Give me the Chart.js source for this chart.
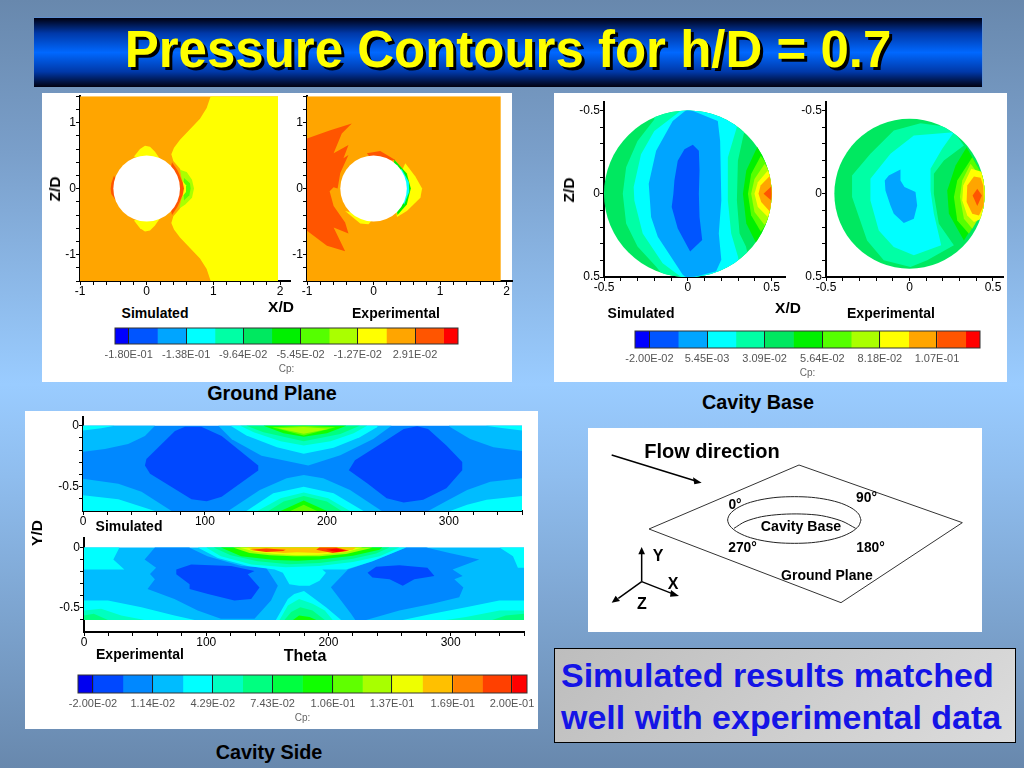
<!DOCTYPE html>
<html><head><meta charset="utf-8">
<style>
html,body{margin:0;padding:0;width:1024px;height:768px;overflow:hidden}
body{position:relative;background:linear-gradient(180deg,#6888ad 0%,#7a9fca 20%,#9accff 50%,#8fbdee 62%,#6888ad 100%);font-family:"Liberation Sans",Arial,sans-serif}
.panel{position:absolute;background:#fff}
canvas{position:absolute}
.t{position:absolute;white-space:nowrap;transform:translate(-50%,-50%);font-weight:bold;color:#000}
.r{transform:translate(-50%,-50%) rotate(-90deg)}
#bar{position:absolute;left:34px;top:17px;width:948px;height:69px;background:linear-gradient(180deg,#000010 0%,#0038a8 22%,#0068ff 50%,#0038a8 78%,#000010 100%);border-top:1px solid #5f8fd0;border-right:1px solid #5f8fd0}
#title{position:absolute;left:508px;top:49px;transform:translate(-50%,-50%);white-space:nowrap;font-weight:bold;font-size:51px;color:#ffff00;text-shadow:3px 3px 0 #000}
#note{position:absolute;left:554px;top:648px;width:460px;height:93px;background:linear-gradient(135deg,#bdbdbd,#dcdcdc);border:1px solid #000}
#note div{position:absolute;left:6px;white-space:nowrap;font-weight:bold;font-size:34px;color:#1414e6;transform:translateY(-50%)}
</style></head><body>
<div id="bar"></div><div id="title">Pressure Contours for h/D = 0.7</div>
<div class="panel" style="left:42px;top:93px;width:470px;height:289px"></div>
<div class="panel" style="left:554px;top:93px;width:453px;height:289px"></div>
<div class="panel" style="left:25px;top:411px;width:513px;height:318px"></div>
<div class="panel" style="left:588px;top:428px;width:394px;height:204px"></div>
<div id="note"><div style="top:26px">Simulated results matched</div><div style="top:68px">well with experimental data</div></div>
<script src="https://cdn.jsdelivr.net/npm/chart.js@4"></script>
<script>
/* ---------- colour levels ---------- */
const mainColors=['#0000ff','#0055ff','#00a5ff','#00ffff','#00ffa5','#00e860','#00f000','#55ff00','#aaff00','#ffff00','#ffa500','#ff5500','#ff0000'];
const sideColors=['#0000f0','#0048ff','#0088ff','#00bcff','#00ffff','#00ffc0','#00ff80','#00ff40','#10ff00','#60ff00','#a8ff00','#eeff00','#ffc000','#ff8000','#ff4000','#ff0000'];

/* ---------- colour bars: level edges and tick labels ---------- */
const groundEdges=[-0.19,-0.18,-0.159,-0.138,-0.117,-0.0964,-0.0755,-0.0545,-0.0336,-0.0127,0.0082,0.0291,0.05,0.0605];
const groundTicks=[-0.18,-0.138,-0.0964,-0.0545,-0.0127,0.0291];
const groundTickLabels=['-1.80E-01','-1.38E-01','-9.64E-02','-5.45E-02','-1.27E-02','2.91E-02'];
const baseEdges=[-0.02635,-0.02,-0.00727,0.00545,0.0182,0.0309,0.0436,0.0564,0.0691,0.0818,0.0945,0.107,0.1197,0.126];
const baseTicks=[-0.02,0.00545,0.0309,0.0564,0.0818,0.107];
const baseTickLabels=['-2.00E-02','5.45E-03','3.09E-02','5.64E-02','8.18E-02','1.07E-01'];
const sideEdges=[-0.02786,-0.02,-0.0043,0.0114,0.0272,0.0429,0.0586,0.0743,0.09,0.106,0.1215,0.137,0.153,0.169,0.1845,0.2,0.2079];
const sideTicks=[-0.02,0.0114,0.0429,0.0743,0.106,0.137,0.169,0.2];
const sideTickLabels=['-2.00E-02','1.14E-02','4.29E-02','7.43E-02','1.06E-01','1.37E-01','1.69E-01','2.00E-01'];

/* ---------- axis tick labels ---------- */
const groundXLabels=[-1,0,1,2], groundZLabels=[-1,0,1];
const baseXLabels=[-0.5,0,0.5], baseZLabels=[-0.5,0,0.5];
const sideThetaLabels=[0,100,200,300], sideYLabels=[0,-0.5];

/* ---------- Ground plane, simulated: contour bands in (X/D, Z/D) ---------- */
const gsBase=[[-1,1.4],[1.97,1.4],[1.97,-1.4],[-1,-1.4]];
const gsYellow=[[0.96,1.4],[0.9,1.22],[0.8,1.06],[0.65,0.9],[0.5,0.74],[0.41,0.62],[0.37,0.52],[0.4,0.42],[0.5,0.3],[0.6,0],[0.5,-0.3],[0.4,-0.42],[0.37,-0.52],[0.41,-0.62],[0.5,-0.74],[0.65,-0.9],[0.8,-1.06],[0.9,-1.22],[0.96,-1.4],[1.97,-1.4],[1.97,1.4]];
const gsPatchTop=[[-0.19,0.485],[-0.1,0.6],[-0.025,0.65],[0.05,0.635],[0.125,0.56],[0.21,0.435],[0,0.4]];
const gsPatchBottom=[[-0.19,-0.485],[-0.1,-0.6],[-0.025,-0.65],[0.05,-0.635],[0.125,-0.56],[0.21,-0.435],[0,-0.4]];
const gsLime=[[0.5,0.285],[0.6,0.25],[0.68,0.135],[0.71,0],[0.68,-0.14],[0.58,-0.24],[0.49,-0.3],[0.55,0]];
const gsGreen=[[0.56,0.16],[0.65,0.08],[0.66,0],[0.64,-0.1],[0.56,-0.18],[0.55,0]];
const gsInner=[[0.5,0.16],[0.59,0.05],[0.59,-0.05],[0.5,-0.16]];
const gsRedLeft=[[-0.49,0.2],[-0.53,0.08],[-0.54,0],[-0.53,-0.08],[-0.47,-0.17],[-0.4,0]];
const gsRedRight=[[0.38,0.4],[0.46,0.28],[0.54,0.1],[0.56,0],[0.54,-0.1],[0.46,-0.28],[0.38,-0.4],[0.3,0]];

/* ---------- Ground plane, experimental ---------- */
const geBase=[[-1,1.4],[1.91,1.4],[1.91,-1.4],[-1,-1.4]];
const geRed=[[-1,0.76],[-0.65,0.885],[-0.327,0.985],[-0.477,0.835],[-0.6,0.535],[-0.377,0.66],[-0.452,0.46],[-0.377,0.51],[-0.5,0.235],[-0.54,0],[-0.6,0.02],[-0.66,-0.04],[-0.6,-0.265],[-0.427,-0.515],[-0.377,-0.68],[-0.6,-0.59],[-0.427,-0.95],[-0.7,-0.865],[-1,-0.64]];
const geCap=[[-0.1,0.535],[0.1,0.57],[0.327,0.435],[0,0.4]];
const geYellowRight=[[0.477,0.385],[0.628,0.185],[0.729,0],[0.704,-0.14],[0.5,-0.34],[0.352,-0.43],[0.3,0]];
const geYellowLow=[[-0.427,-0.34],[-0.2,-0.53],[-0.075,-0.54],[0,-0.45]];
const geLime=[[0.31,0.44],[0.5,0.23],[0.56,0],[0.5,-0.24],[0.36,-0.4],[0.3,0]];
const geCyan=[[0.42,0.3],[0.53,0.1],[0.535,-0.05],[0.46,-0.24],[0.3,0]];

/* ---------- Cavity base, simulated: contour bands in (X/D, Z/D) ---------- */
const bsRect=[[-0.55,-0.55],[0.55,-0.55],[0.55,0.55],[-0.55,0.55]];
const bsSpring=[[-0.2,-0.55],[-0.2,-0.446],[-0.3,-0.317],[-0.368,-0.159],[-0.388,0],[-0.368,0.179],[-0.3,0.317],[-0.19,0.437],[-0.1,0.55],[0.4,0.55],[0.347,0.317],[0.309,0.238],[0.293,0.04],[0.299,-0.198],[0.329,-0.337],[0.38,-0.55]];
const bsCyan=[[-0.04,-0.55],[-0.04,-0.5],[-0.2,-0.377],[-0.279,-0.238],[-0.323,-0.04],[-0.319,0.04],[-0.269,0.238],[-0.15,0.417],[-0.04,0.5],[-0.04,0.55],[0.33,0.55],[0.299,0.377],[0.259,0.238],[0.239,0.04],[0.239,-0.218],[0.289,-0.387],[0.33,-0.55]];
const bsAzure=[[0,-0.51],[-0.09,-0.437],[-0.189,-0.258],[-0.233,-0.06],[-0.219,0.139],[-0.179,0.258],[-0.03,0.486],[0,0.51],[0.169,0.466],[0.2,0.397],[0.185,0.238],[0.2,0.04],[0.193,-0.317],[0.179,-0.437]];
const bsBlue=[[0.03,-0.294],[-0.02,-0.268],[-0.06,-0.198],[-0.08,-0.079],[-0.086,0],[-0.096,0.079],[-0.06,0.208],[0.014,0.347],[0.086,0.278],[0.07,0.139],[0.066,0],[0.07,-0.139],[0.066,-0.258]];
const bsHot6=[[0.418,-0.288],[0.349,-0.139],[0.329,0],[0.349,0.179],[0.408,0.298],[0.6,0]];
const bsHot7=[[0.436,-0.228],[0.378,-0.119],[0.359,0],[0.378,0.129],[0.436,0.228],[0.6,0]];
const bsHot8=[[0.458,-0.179],[0.398,-0.089],[0.378,0],[0.398,0.109],[0.458,0.188],[0.6,0]];
const bsHot9=[[0.478,-0.139],[0.418,-0.069],[0.398,0],[0.418,0.079],[0.478,0.139],[0.6,0]];
const bsHot10=[[0.492,-0.109],[0.434,-0.05],[0.422,0],[0.438,0.05],[0.492,0.109],[0.6,0]];
const bsHot11=[[0.498,-0.044],[0.452,0],[0.498,0.04],[0.6,0]];

/* ---------- Cavity base, experimental ---------- */
const beSpring=[[-0.344,-0.11],[-0.234,-0.24],[-0.094,-0.38],[0.066,-0.424],[0.246,-0.4],[0.326,-0.29],[0.206,-0.2],[0.146,-0.12],[0.146,0],[0.176,0.18],[0.266,0.31],[0.106,0.4],[0.006,0.44],[-0.154,0.4],[-0.254,0.28],[-0.344,0.02]];
const beCyan=[[-0.234,-0.09],[-0.114,-0.24],[0.026,-0.35],[0.266,-0.37],[0.196,-0.27],[0.126,-0.15],[0.126,-0.02],[0.146,0.12],[0.19,0.31],[0.026,0.37],[-0.094,0.32],[-0.184,0.22],[-0.234,0.04]];
const beAzure=[[-0.054,-0.146],[-0.124,-0.11],[-0.148,-0.08],[-0.144,-0.02],[-0.114,0.07],[-0.094,0.12],[-0.034,0.176],[0.026,0.15],[0.046,0.07],[0.036,-0.01],[-0.03,-0.04],[-0.054,-0.08]];
const beHot6=[[0.342,-0.28],[0.276,-0.17],[0.226,-0.02],[0.236,0.12],[0.326,0.28],[0.5,0]];
const beHot7=[[0.376,-0.22],[0.286,-0.08],[0.266,0.02],[0.286,0.16],[0.356,0.24],[0.5,0]];
const beHot8=[[0.366,-0.18],[0.316,-0.08],[0.302,0.02],[0.326,0.15],[0.376,0.21],[0.5,0]];
const beHot9=[[0.37,-0.15],[0.322,-0.05],[0.316,0.04],[0.346,0.13],[0.386,0.17],[0.456,0.14],[0.466,-0.02],[0.436,-0.13]];
const beHot10=[[0.386,-0.104],[0.346,-0.05],[0.342,0.05],[0.376,0.12],[0.416,0.13],[0.446,0.07],[0.442,-0.05],[0.426,-0.096]];
const beHot11=[[0.406,-0.03],[0.378,0.01],[0.406,0.074],[0.434,0.01]];

/* ---------- Cavity side, simulated: contour bands in (Theta, Y/D) ---------- */
const ssBase=[[0,0],[360,0],[360,-0.7],[0,-0.7]];
const ssTL=[[0,0],[59,0],[50.8,-0.084],[37,-0.151],[18,-0.192],[0,-0.213]];
const ssTLc=[[0,0],[26,0],[15,-0.02],[0,-0.04]];
const ssTR=[[360,-0.208],[336.6,-0.176],[317.5,-0.108],[301,-0.01],[300,0],[360,0]];
const ssTRc=[[330,0],[360,0],[360,-0.04],[345,-0.02]];
const ssBL=[[0,-0.435],[29,-0.476],[48,-0.543],[72.7,-0.7],[0,-0.7]];
const ssBLc=[[0,-0.57],[29,-0.603],[59,-0.7],[0,-0.7]];
const ssBR=[[360,-0.432],[334,-0.459],[315,-0.527],[300,-0.608],[283,-0.7],[360,-0.7]];
const ssBRc=[[360,-0.576],[331,-0.608],[315,-0.649],[301,-0.7],[360,-0.7]];
const ssT3=[[111,0],[122,-0.11],[146.4,-0.246],[184.7,-0.327],[211,-0.243],[238,-0.108],[253,0]];
const ssT4=[[121,0],[134,-0.08],[159,-0.176],[181,-0.23],[205.5,-0.18],[227,-0.095],[241,-0.013],[242,0]];
const ssT5=[[129,0],[140,-0.054],[162,-0.127],[181,-0.162],[203,-0.127],[222,-0.062],[233,0]];
const ssT6=[[134,0],[148,-0.054],[181,-0.127],[211,-0.068],[227,0]];
const ssT8=[[148,0],[164.5,-0.062],[181,-0.09],[200,-0.062],[216,0]];
const ssT9=[[155,-0.012],[181,-0.08],[207,-0.012],[181,0]];
const ssT10=[[160,-0.02],[181,-0.065],[202,-0.025],[181,-0.01]];
const ssB3=[[119,-0.7],[145,-0.527],[167,-0.432],[181,-0.405],[197,-0.432],[219,-0.527],[245,-0.7]];
const ssB4=[[134,-0.7],[156,-0.554],[181,-0.5],[205.5,-0.554],[230,-0.7]];
const ssB5=[[143,-0.7],[162,-0.595],[181,-0.549],[201,-0.595],[219,-0.7]];
const ssB6=[[152,-0.7],[164.5,-0.622],[181,-0.576],[200,-0.622],[212,-0.7]];
const ssB8=[[162,-0.7],[181,-0.614],[200,-0.7]];
const ssB9=[[170,-0.7],[181,-0.649],[192,-0.7]];
const ssBlueL=[[83.6,-0.008],[75.4,-0.043],[52,-0.273],[50.8,-0.327],[55,-0.395],[89,-0.603],[101.4,-0.619],[113.7,-0.584],[143.7,-0.368],[143.7,-0.327],[113.7,-0.084],[97,-0.008]];
const ssBlueR=[[218,-0.365],[223,-0.284],[244,-0.149],[263,-0.027],[274,-0.005],[283,-0.027],[298,-0.162],[311,-0.297],[311,-0.365],[298,-0.514],[279,-0.608],[263,-0.63],[249,-0.595],[233,-0.473]];

/* ---------- Cavity side, experimental ---------- */
const seBase=[[0,0],[360,0],[360,-0.6],[0,-0.6]];
const seL2=[[58,0],[86,0],[101,-0.073],[128.6,-0.155],[149,-0.168],[158.6,-0.318],[153,-0.44],[139.5,-0.59],[112,-0.59],[93,-0.522],[74,-0.427],[52,-0.345],[58,-0.264],[54,-0.22],[59,-0.168],[49.6,-0.1]];
const seR2=[[263.5,0],[280,0],[299,-0.046],[323.4,-0.1],[301.6,-0.182],[309.8,-0.236],[303,-0.264],[310.4,-0.332],[307,-0.413],[285,-0.467],[258,-0.522],[230.8,-0.6],[222,-0.6],[218.5,-0.55],[202,-0.33],[216,-0.182],[236,-0.114],[252.6,-0.046]];
const seTL4=[[0,0],[29,0],[24,-0.1],[33,-0.182],[0,-0.182]];
const seLow4=[[0,-0.44],[19.6,-0.44],[47,-0.495],[74,-0.563],[90.5,-0.6],[0,-0.6]];
const seLow5=[[0,-0.522],[14,-0.508],[30.5,-0.563],[49.6,-0.6],[0,-0.6]];
const seLow6=[[0,-0.563],[8,-0.549],[19.6,-0.6],[0,-0.6]];
const seTR4=[[340,0],[351,-0.073],[355,-0.168],[360,-0.168],[360,0]];
const seLowR4=[[360,-0.44],[339.8,-0.44],[312.5,-0.495],[285,-0.549],[260.8,-0.6],[360,-0.6]];
const seLowR5=[[360,-0.522],[340,-0.522],[312.5,-0.576],[296,-0.6],[360,-0.6]];
const seLowR6=[[360,-0.549],[345,-0.563],[334,-0.6],[360,-0.6]];
const seC4=[[93,0],[109.5,-0.087],[134,-0.155],[156,-0.182],[162.7,-0.21],[168,-0.304],[176,-0.318],[184.5,-0.318],[192.7,-0.277],[198,-0.21],[195,-0.182],[214.4,-0.182],[236,-0.114],[252.6,-0.046],[263.5,0]];
const seC5=[[100,0],[112,-0.073],[137,-0.141],[165,-0.165],[192.6,-0.155],[220,-0.12],[242,-0.073],[258,0]];
const seC6=[[106,0],[120,-0.065],[142,-0.115],[168,-0.14],[192.6,-0.13],[220,-0.095],[239,-0.05],[250,0]];
const seC8=[[112,0],[128.6,-0.073],[156,-0.105],[175,-0.11],[192.6,-0.1],[220,-0.07],[241.7,-0.02],[244,0]];
const seC10=[[122,0],[135.4,-0.046],[152,-0.065],[171,-0.073],[192.6,-0.073],[214.5,-0.054],[233.5,-0.01],[236,0]];
const seC11=[[127,0],[141,-0.038],[157,-0.054],[174,-0.065],[192.6,-0.06],[214.5,-0.038],[228,0]];
const seC12=[[133,0],[144,-0.027],[163,-0.046],[174,-0.04],[192.6,-0.046],[220,-0.02],[222.6,0]];
const seRedL=[[135.4,-0.02],[149,-0.038],[163,-0.03],[165,-0.02],[149,-0.01]];
const seRedR=[[190,-0.02],[203.5,-0.046],[217,-0.027],[206.5,0],[192.6,0]];
const seRed=[[198,-0.02],[206.5,-0.038],[214.5,-0.027],[206.5,-0.01]];
const seB4=[[157,-0.6],[166.8,-0.427],[172,-0.386],[180,-0.36],[187,-0.413],[198,-0.495],[210.4,-0.6]];
const seB5=[[160,-0.6],[166.8,-0.481],[176,-0.427],[187,-0.467],[197,-0.522],[203.5,-0.6]];
const seB6=[[164,-0.6],[169.5,-0.535],[177,-0.495],[187,-0.522],[197,-0.6]];
const seB8=[[171,-0.6],[176,-0.563],[184.5,-0.576],[190,-0.6]];
const seBlueL=[[75.5,-0.182],[75.5,-0.223],[86.4,-0.304],[86.4,-0.345],[101.4,-0.386],[123,-0.44],[136.8,-0.427],[143.6,-0.332],[134,-0.223],[139.5,-0.196],[120.4,-0.155],[87.7,-0.141]];
const seBlueR=[[232,-0.21],[236,-0.25],[250,-0.264],[260.8,-0.318],[270.3,-0.264],[286.7,-0.236],[281,-0.168],[258,-0.147],[239,-0.16]];

/* ---------- Schematic outline, in diagram units ---------- */
const planeOutline=[[192,312],[642,120],[1132,293],[768,533],[192,312]];
const cavityRim=[[828,285],[821,303],[801,320],[769,335],[728,346],[680,353],[628,355],[576,353],[528,346],[487,335],[455,320],[435,303],[428,285],[435,267],[455,250],[487,235],[528,224],[576,217],[628,215],[680,217],[728,224],[769,235],[801,250],[821,267],[828,285]];
const cavityFloor=[[447,310],[480,290],[530,275],[590,268],[650,267],[710,272],[770,288],[812,310]];
const flowLine=[[80,90],[330,167]], flowHead=[[350,173],[324,157],[328,178]];
const axisY=[[170,470],[170,385]], axisYHead=[[170,366],[160,388],[180,388]];
const axisX=[[170,470],[260,505]], axisXHead=[[282,513],[258,495],[255,515]];
const axisZ=[[170,470],[100,520]], axisZHead=[[80,533],[92,512],[105,528]];

/* ---------- rendering helpers ---------- */
const pts=a=>a.map(p=>({x:p[0],y:p[1]}));
const contourPlugin={id:'contour',
 beforeDatasetDraw(chart,args){
  const ds=chart.data.datasets[args.index]; if(!ds.polygon) return;
  const o=chart.options.plugins.contour||{},c=chart.ctx,pp=args.meta.data,x=chart.scales.x,y=chart.scales.y,a=chart.chartArea;
  c.save(); c.beginPath();
  if(o.disc){c.ellipse(x.getPixelForValue(o.disc[0]),y.getPixelForValue(o.disc[1]),Math.abs(x.getPixelForValue(o.disc[2])-x.getPixelForValue(0)),Math.abs(y.getPixelForValue(o.disc[2])-y.getPixelForValue(0)),0,0,Math.PI*2);}
  else c.rect(a.left,a.top,a.right-a.left,a.bottom-a.top);
  c.clip(); c.beginPath();
  pp.forEach((p,i)=>i?c.lineTo(p.x,p.y):c.moveTo(p.x,p.y));
  c.closePath(); c.fillStyle=ds.backgroundColor; c.fill(); c.restore();
 },
 afterDatasetsDraw(chart){
  const o=chart.options.plugins.contour||{},c=chart.ctx;
  if(o.hole){const x=chart.scales.x,y=chart.scales.y;c.save();c.fillStyle='#fff';c.beginPath();
   c.ellipse(x.getPixelForValue(o.hole[0]),y.getPixelForValue(o.hole[1]),Math.abs(x.getPixelForValue(o.hole[2])-x.getPixelForValue(0)),Math.abs(y.getPixelForValue(o.hole[2])-y.getPixelForValue(0)),0,0,Math.PI*2);c.fill();c.restore();}
 },
 afterDraw(chart){
  const o=chart.options.plugins.contour||{},c=chart.ctx,a=chart.chartArea;
  if(o.frame){c.save();c.strokeStyle='#333';c.lineWidth=1;c.strokeRect(a.left,a.top,a.right-a.left,a.bottom-a.top);c.restore();}
 }};
Chart.register(contourPlugin);
function canvas(l,t,w,h){const e=document.createElement('canvas');e.width=w;e.height=h;e.style.cssText=`left:${l}px;top:${t}px;width:${w}px;height:${h}px`;document.body.appendChild(e);return e;}
function axis(min,max,step,labels,reverse,pos,fitSize){
 return {type:'linear',position:pos,min,max,reverse,
  grid:{drawOnChartArea:false,drawTicks:true,tickLength:4,color:'#000',tickColor:'#000',lineWidth:1},
  border:{display:true,color:'#000',width:2},
  ticks:{stepSize:step,includeBounds:false,autoSkip:false,maxRotation:0,minRotation:0,padding:pos==='left'?0:-1,color:'#000',font:{family:'"Liberation Sans"',size:12},
   callback:v=>{const m=labels.find(q=>Math.abs(q-v)<1e-6);return m===undefined?'':String(m);}},
  afterFit:s=>{if(pos==='left')s.width=fitSize;else s.height=fitSize;}};
}
function contourChart(r,xr,yr,xstep,ystep,xlabels,ylabels,rev,layers,extra){
 const L=45,T=6,R=8,B=24;
 new Chart(canvas(r.l-L,r.t-T,r.r-r.l+L+R,r.b-r.t+T+B),{type:'scatter',
  data:{datasets:layers.map((q,i)=>({data:pts(q[0]),backgroundColor:q[1],polygon:true,pointRadius:0,showLine:false,order:-i}))},
  options:{responsive:false,animation:false,events:[],layout:{autoPadding:false,padding:{left:0,top:T,right:R,bottom:0}},
   plugins:{legend:{display:false},tooltip:{enabled:false},contour:extra||{}},
   scales:{x:axis(xr[0],xr[1],xstep,xlabels,false,'bottom',B),y:axis(yr[0],yr[1],ystep,ylabels,rev,'left',L)}}});
}
function colorBar(r,edges,colors,ticks,labels){
 const P=40,T=2,B=33;
 new Chart(canvas(r.l-P,r.t-T,r.r-r.l+2*P,r.b-r.t+T+B),{type:'bar',
  data:{labels:['Cp'],datasets:colors.map((c,i)=>({data:[[edges[i],edges[i+1]]],backgroundColor:c,barPercentage:1,categoryPercentage:1}))},
  options:{indexAxis:'y',responsive:false,animation:false,events:[],layout:{autoPadding:false,padding:{left:P,right:P,top:T,bottom:0}},
   plugins:{legend:{display:false},tooltip:{enabled:false},contour:{frame:true}},
   scales:{y:{display:false,stacked:true},
    x:{type:'linear',min:edges[0],max:edges[edges.length-1],
     grid:{z:1,drawTicks:false,color:'#222',lineWidth:1},border:{display:false},
     title:{display:true,text:'Cp:',color:'#666',font:{family:'"Liberation Sans"',size:10},padding:{top:0,bottom:2}},
     afterBuildTicks:s=>{s.ticks=ticks.map(v=>({value:v}));},
     afterFit:s=>{s.height=B;},
     ticks:{autoSkip:false,maxRotation:0,minRotation:0,padding:4,color:'#555',font:{family:'"Liberation Sans"',size:11},
      callback:(v,i)=>labels[i]}}}}});
}
const M=mainColors,S=sideColors;

/* ---------- the six contour plots ---------- */
contourChart({l:80,t:95,r:290,b:281},[-1,2.15],[-1.4,1.4],0.2,0.2,groundXLabels,groundZLabels,false,
 [[gsBase,M[10]],[gsYellow,M[9]],[gsPatchTop,M[9]],[gsPatchBottom,M[9]],[gsLime,M[8]],[gsGreen,M[7]],[gsInner,M[9]],[gsRedLeft,M[11]],[gsRedRight,M[11]]],{hole:[0,0,0.5]});
contourChart({l:307,t:95,r:512,b:281},[-1,2.08],[-1.4,1.4],0.2,0.2,groundXLabels,groundZLabels,false,
 [[geBase,M[10]],[geRed,M[11]],[geCap,M[11]],[geYellowRight,M[9]],[geYellowLow,M[9]],[geLime,M[6]],[geCyan,M[3]]],{hole:[0,0,0.5]});
contourChart({l:604,t:101,r:785,b:277},[-0.5,0.58],[-0.55,0.5],0.1,0.1,baseXLabels,baseZLabels,true,
 [[bsRect,M[5]],[bsSpring,M[4]],[bsCyan,M[3]],[bsAzure,M[2]],[bsBlue,M[1]],[bsHot6,M[6]],[bsHot7,M[7]],[bsHot8,M[8]],[bsHot9,M[9]],[bsHot10,M[10]],[bsHot11,M[11]]],{disc:[0,0,0.5]});
contourChart({l:826,t:101,r:1003,b:277},[-0.5,0.56],[-0.55,0.5],0.1,0.1,baseXLabels,baseZLabels,true,
 [[bsRect,M[5]],[beSpring,M[4]],[beCyan,M[3]],[beAzure,M[2]],[beHot6,M[6]],[beHot7,M[7]],[beHot8,M[8]],[beHot9,M[9]],[beHot10,M[10]],[beHot11,M[11]]],{disc:[0,0,0.45]});
contourChart({l:83,t:416,r:522,b:511},[0,360],[-0.7,0.07],20,0.1,sideThetaLabels,sideYLabels,false,
 [[ssBase,S[2]],[ssTL,S[3]],[ssTLc,S[4]],[ssTR,S[3]],[ssTRc,S[4]],[ssBL,S[3]],[ssBLc,S[4]],[ssBR,S[3]],[ssBRc,S[4]],
  [ssT3,S[3]],[ssT4,S[4]],[ssT5,S[5]],[ssT6,S[6]],[ssT8,S[8]],[ssT9,S[9]],[ssT10,S[10]],
  [ssB3,S[3]],[ssB4,S[4]],[ssB5,S[5]],[ssB6,S[6]],[ssB8,S[8]],[ssB9,S[9]],[ssBlueL,S[1]],[ssBlueR,S[1]]]);
contourChart({l:84,t:537,r:524,b:632},[0,360],[-0.7,0.076],20,0.1,sideThetaLabels,sideYLabels,false,
 [[seBase,S[3]],[seL2,S[2]],[seR2,S[2]],[seTL4,S[4]],[seLow4,S[4]],[seLow5,S[5]],[seLow6,S[6]],[seTR4,S[4]],[seLowR4,S[4]],[seLowR5,S[5]],[seLowR6,S[6]],
  [seC4,S[4]],[seC5,S[5]],[seC6,S[6]],[seC8,S[8]],[seC10,S[10]],[seC11,S[11]],[seC12,S[12]],[seRedL,S[14]],[seRedR,S[14]],[seRed,S[15]],
  [seB4,S[4]],[seB5,S[5]],[seB6,S[6]],[seB8,S[8]],[seBlueL,S[1]],[seBlueR,S[1]]]);

/* ---------- colour bars ---------- */
colorBar({l:115,t:328,r:458,b:344},groundEdges,mainColors,groundTicks,groundTickLabels);
colorBar({l:635,t:331,r:980,b:348},baseEdges,mainColors,baseTicks,baseTickLabels);
colorBar({l:78,t:675,r:527,b:693},sideEdges,sideColors,sideTicks,sideTickLabels);

/* ---------- schematic ---------- */
const lineDs=(a,w,col,tension)=>({data:pts(a),showLine:true,borderColor:col,borderWidth:w,pointRadius:0,tension:tension||0,fill:false});
const headDs=a=>({data:pts(a),polygon:true,backgroundColor:'#000',pointRadius:0,showLine:false});
new Chart(canvas(585,425,400,210),{type:'scatter',
 data:{datasets:[lineDs(planeOutline,1,'#333'),lineDs(cavityRim,1,'#222',0.3),lineDs(cavityFloor,1,'#222',0.3),
  lineDs(flowLine,1.5,'#000'),headDs(flowHead),lineDs(axisY,1.5,'#000'),headDs(axisYHead),lineDs(axisX,1.5,'#000'),headDs(axisXHead),lineDs(axisZ,1.5,'#000'),headDs(axisZHead)]},
 options:{responsive:false,animation:false,events:[],layout:{autoPadding:false,padding:0},
  plugins:{legend:{display:false},tooltip:{enabled:false}},
  scales:{x:{display:false,min:0,max:1200},y:{display:false,min:0,max:630,reverse:true}}}});

/* ---------- text ---------- */
const textItems=[
 ['Ground Plane',272,393,19.8],['Cavity Base',758,402,19.8],['Cavity Side',269,752,19.8],
 ['Simulated',155,313,14],['Experimental',396,313,14],['X/D',281,307,15.5],
 ['Simulated',641,313,14],['Experimental',891,313,14],['X/D',788,308,15.5],
 ['Simulated',129,526,14],['Experimental',140,654,14],['Theta',305,656,16],
 ['Flow direction',712,451,20],['0°',735,504,13.8],['90°',866.5,497,13.8],['270°',742.5,547,13.8],['180°',870.5,547,13.8],
 ['Cavity Base',801,526,14.2],['Ground Plane',827,575,14],['Y',658,556,16],['X',673,584,16],['Z',642,604,16]];
const rotatedItems=[['Z/D',55,189,15.5],['Z/D',569,190,15.5],['Y/D',37,533,15.5]];
const add=(it,cls)=>{const d=document.createElement('div');d.className=cls;d.textContent=it[0];d.style.left=it[1]+'px';d.style.top=it[2]+'px';d.style.fontSize=it[3]+'px';document.body.appendChild(d);};
textItems.forEach(i=>add(i,'t'));
rotatedItems.forEach(i=>add(i,'t r'));
</script>
</body></html>
